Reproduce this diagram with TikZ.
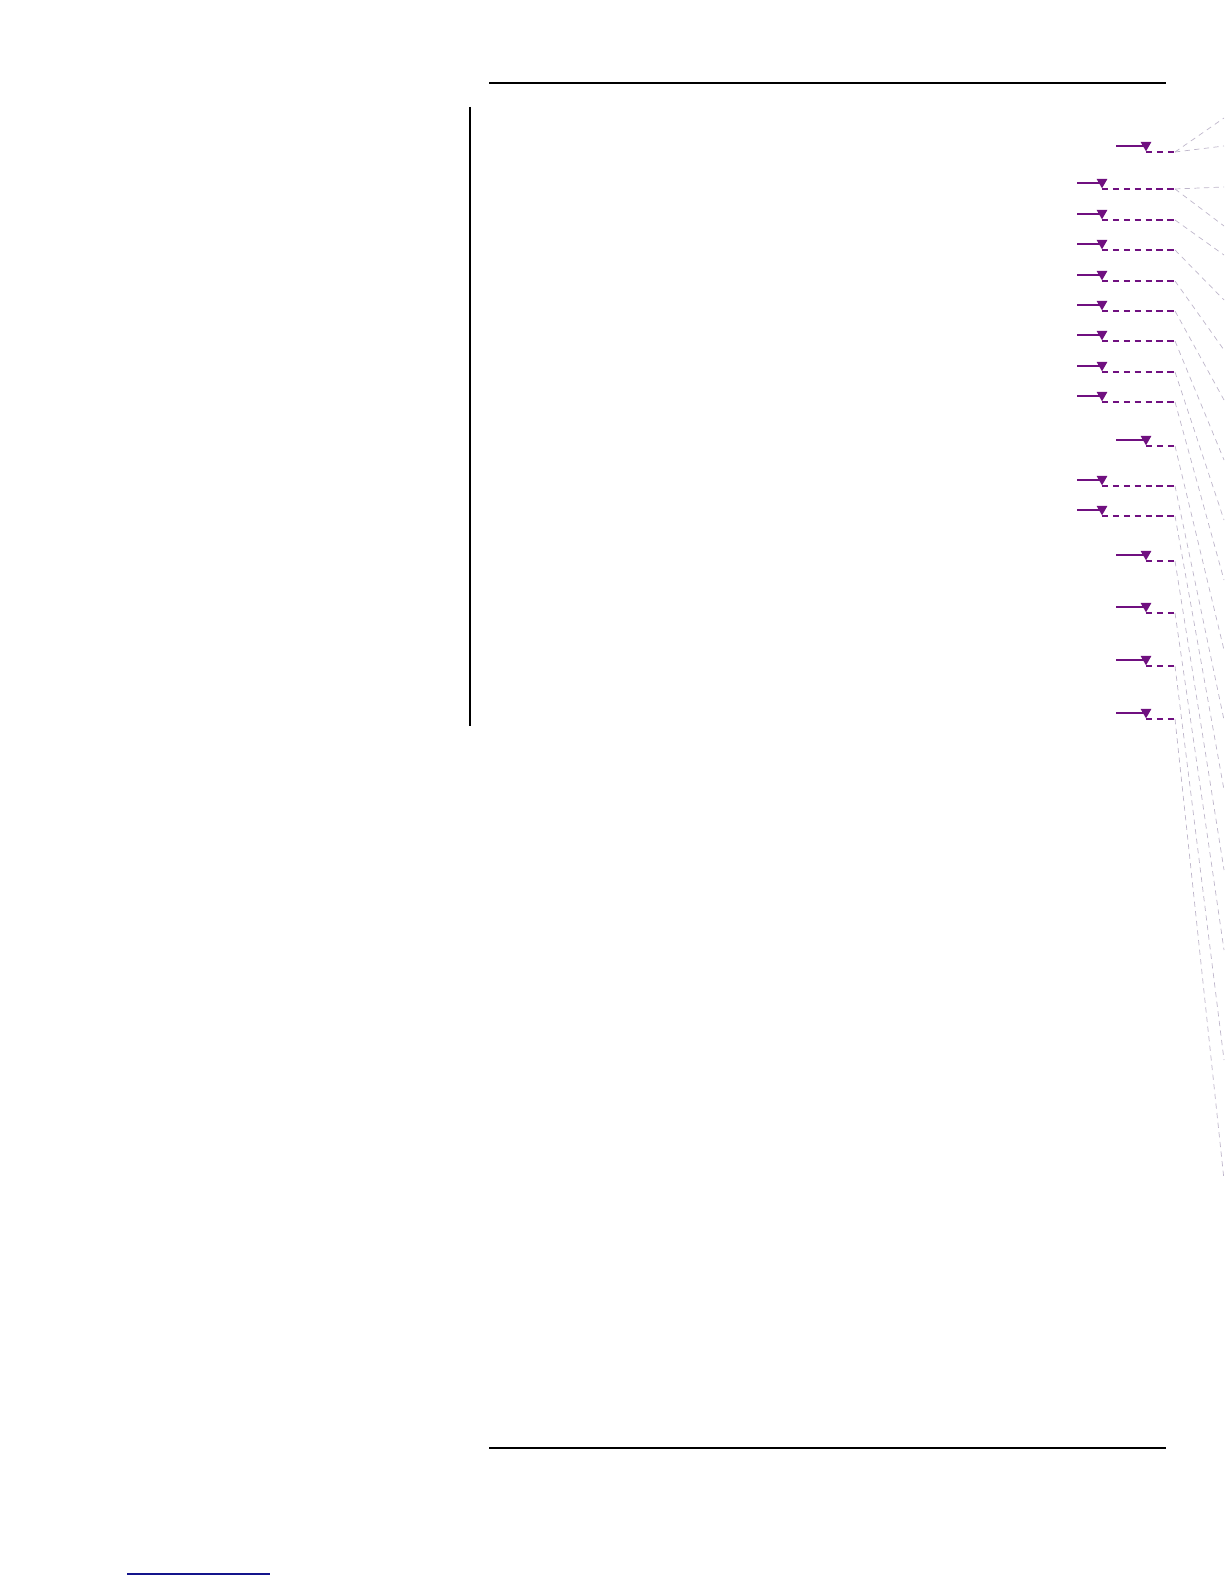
\documentclass[tikz,border=0pt]{standalone}
\usetikzlibrary{shapes.geometric}
\definecolor{markpurple}{RGB}{112,16,128}
\definecolor{leadgray}{RGB}{190,182,202}
\definecolor{linkblue}{RGB}{20,20,140}
\begin{document}
\begin{tikzpicture}[x=0.02cm,y=-0.02cm,
        rule/.style={line width=0.8pt},
        bar/.style={line width=1.4pt},
        mark line/.style={markpurple,line width=1.1pt},
        mark tri/.style={regular polygon,regular polygon sides=3,shape border rotate=180,
                         fill=markpurple,inner sep=0pt,minimum size=0.25cm,anchor=corner 1},
        mark dash/.style={markpurple,line width=0.7pt,dash pattern=on 3.6pt off 2.6pt},
        leader/.style={leadgray,line width=0.4pt,dash pattern=on 3pt off 2.5pt}]

        \useasboundingbox (0,0) rectangle (1224,1584);

        % Define page rules
        \coordinate (tl) at (489,83);
        \coordinate (tr) at (1166,83);
        \coordinate (bl) at (489,1448);
        \coordinate (br) at (1166,1448);
        \coordinate (bt) at (470,107);
        \coordinate (bb) at (470,726);
        \coordinate (ul) at (127,1574);
        \coordinate (ur) at (270,1574);
        \draw[rule] (tl) -- (tr);
        \draw[rule] (bl) -- (br);
        \draw[bar] (bt) -- (bb);
        \draw[linkblue,line width=0.8pt] (ul) -- (ur);

        % Change marks
        \foreach \n/\y/\xs/\xt/\ty in {1/152/1116/1146/146, 2/189/1077/1102/187,
                3/220/1077/1102/255, 4/250/1077/1102/300, 5/281/1077/1102/350,
                6/311/1077/1102/400, 7/341/1077/1102/460, 8/372/1077/1102/520,
                9/402/1077/1102/580, 10/446/1116/1146/650, 11/486/1077/1102/720,
                12/516/1077/1102/790, 13/561/1116/1146/870, 14/613/1116/1146/950,
                15/666/1116/1146/1060, 16/719/1116/1146/1180} {
            \coordinate (s\n) at (\xs,\y-6);
            \node[mark tri] (t\n) at (\xt,\y) {};
            \coordinate (e\n) at (1175,\y);
            \coordinate (r\n) at (1224,\ty);
            \draw[mark line] (s\n) -- (t\n.center |- s\n);
            \draw[mark dash] (t\n.corner 1) -- (e\n);
            \draw[leader] (e\n) -- (r\n);
        }

        % Extra leaders
        \coordinate (r1b) at (1224,118);
        \coordinate (r2b) at (1224,226);
        \draw[leader] (e1) -- (r1b);
        \draw[leader] (e2) -- (r2b);
\end{tikzpicture}
\end{document}
